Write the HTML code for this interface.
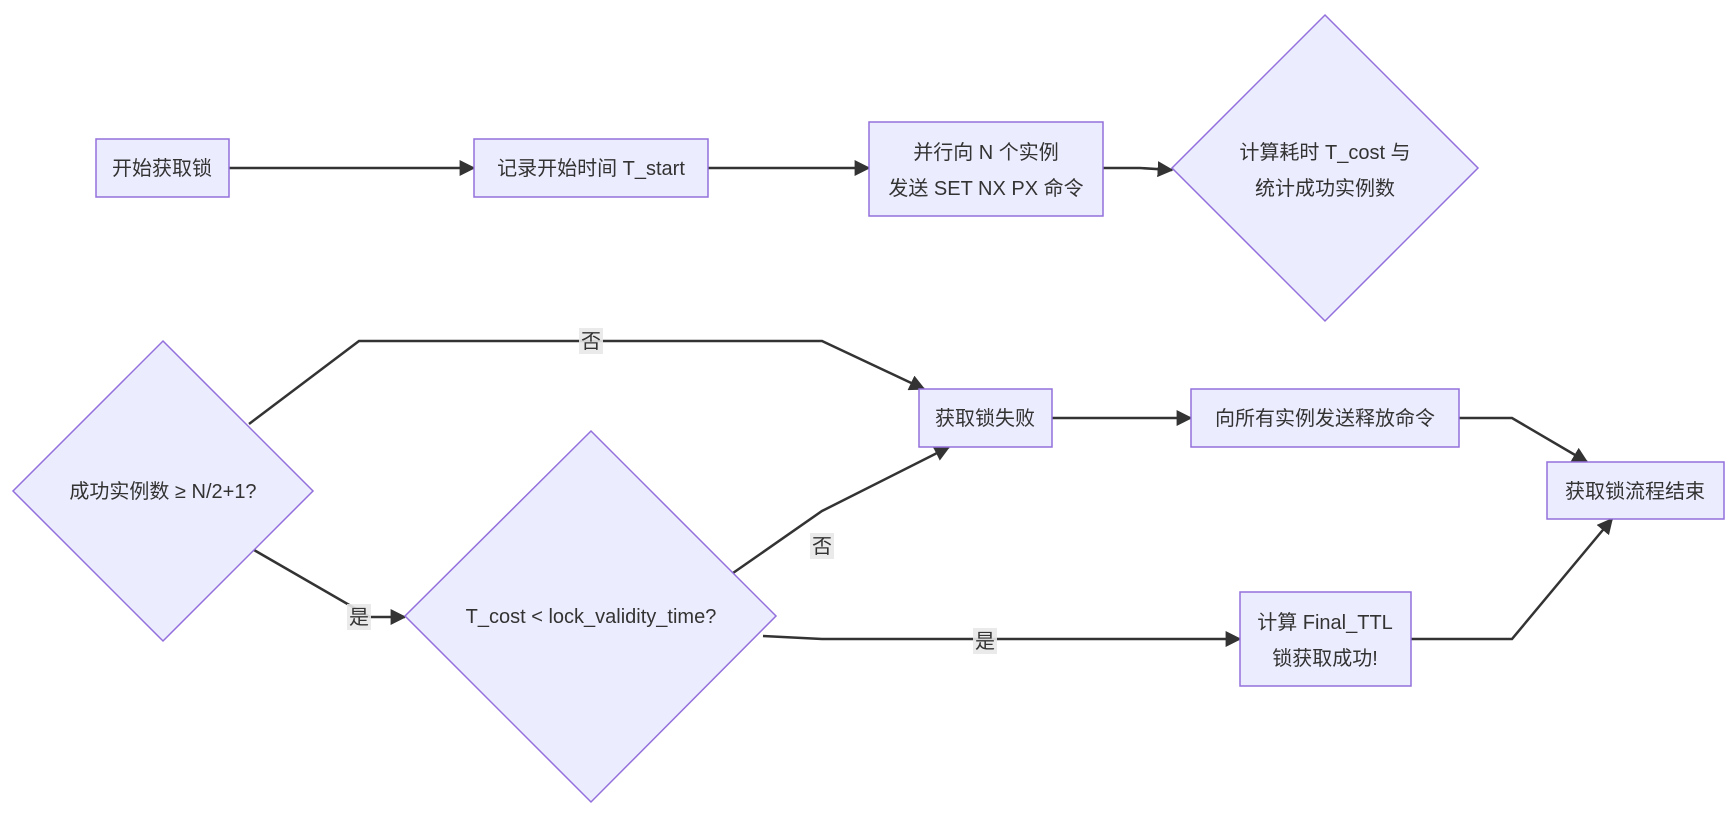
<!DOCTYPE html>
<html><head><meta charset="utf-8"><style>
html,body{margin:0;padding:0;background:#fff;}
svg{display:block;}
text{font-family:"Liberation Sans","Noto Sans CJK SC",sans-serif;font-size:20px;fill:#333;}
.n{fill:#ECECFF;stroke:#9370DB;stroke-width:1.5;}
.e{fill:none;stroke:#333;stroke-width:2.5;}
.lb{fill:#e8e8e8;opacity:0.9;}
</style></head><body>
<svg width="1734" height="814" viewBox="0 0 1734 814" xmlns="http://www.w3.org/2000/svg">
<defs><marker id="a" viewBox="0 0 10 10" refX="9" refY="5" markerWidth="7" markerHeight="7" orient="auto" markerUnits="userSpaceOnUse"><path d="M0,0 L10,5 L0,10z" fill="#333"/></marker>
<marker id="b" viewBox="0 0 10 10" refX="9" refY="5" markerWidth="16" markerHeight="16" orient="auto" markerUnits="userSpaceOnUse"><path d="M0,0 L10,5 L0,10z" fill="#333"/></marker></defs>

<!-- edges -->
<path class="e" d="M229,168 L474,168" marker-end="url(#b)"/>
<path class="e" d="M708,168 L869,168" marker-end="url(#b)"/>
<path class="e" d="M1103,168 L1140,168 L1172,170" marker-end="url(#b)"/>
<path class="e" d="M249,424 L359,341 L822,341 L924,389" marker-end="url(#b)"/>
<path class="e" d="M254,550 L370,617 L405,617" marker-end="url(#b)"/>
<path class="e" d="M733,573 L822,511 L949,447" marker-end="url(#b)"/>
<path class="e" d="M763,636 L822,639 L1240,639" marker-end="url(#b)"/>
<path class="e" d="M1052,418 L1191,418" marker-end="url(#b)"/>
<path class="e" d="M1459,418 L1512,418 L1587,462" marker-end="url(#b)"/>
<path class="e" d="M1411,639 L1512,639 L1612,519" marker-end="url(#b)"/>

<!-- nodes -->
<rect class="n" x="96" y="139" width="133" height="58"/>
<text x="162" y="175" text-anchor="middle">开始获取锁</text>
<rect class="n" x="474" y="139" width="234" height="58"/>
<text x="591" y="175" text-anchor="middle">记录开始时间 T_start</text>
<rect class="n" x="869" y="122" width="234" height="94"/>
<text x="986" y="159" text-anchor="middle">并行向 N 个实例</text>
<text x="986" y="195" text-anchor="middle">发送 SET NX PX 命令</text>
<polygon class="n" points="1325,15 1478,168 1325,321 1172,168"/>
<text x="1325" y="159" text-anchor="middle">计算耗时 T_cost 与</text>
<text x="1325" y="195" text-anchor="middle">统计成功实例数</text>
<polygon class="n" points="163,341 313,491 163,641 13,491"/>
<text x="163" y="498" text-anchor="middle">成功实例数 ≥ N/2+1?</text>
<polygon class="n" points="591,431 776,616 591,802 405,616"/>
<text x="591" y="623" text-anchor="middle">T_cost &lt; lock_validity_time?</text>
<rect class="n" x="919" y="389" width="133" height="58"/>
<text x="985" y="425" text-anchor="middle">获取锁失败</text>
<rect class="n" x="1191" y="389" width="268" height="58"/>
<text x="1325" y="425" text-anchor="middle">向所有实例发送释放命令</text>
<rect class="n" x="1547" y="462" width="177" height="57"/>
<text x="1635" y="498" text-anchor="middle">获取锁流程结束</text>
<rect class="n" x="1240" y="592" width="171" height="94"/>
<text x="1325" y="629" text-anchor="middle">计算 Final_TTL</text>
<text x="1325" y="665" text-anchor="middle">锁获取成功!</text>

<!-- labels -->
<rect class="lb" x="579" y="328" width="24" height="26"/><text x="591" y="348" text-anchor="middle">否</text>
<rect class="lb" x="347" y="604" width="24" height="26"/><text x="359" y="624" text-anchor="middle">是</text>
<rect class="lb" x="810" y="533" width="24" height="26"/><text x="822" y="553" text-anchor="middle">否</text>
<rect class="lb" x="973" y="628" width="24" height="26"/><text x="985" y="648" text-anchor="middle">是</text>
</svg>
</body></html>
